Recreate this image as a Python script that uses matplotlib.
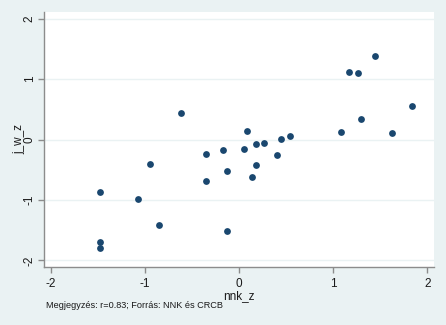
import matplotlib
matplotlib.use("Agg")
import matplotlib.pyplot as plt

nnk_z = [1.44, 1.17, 1.26, 1.84, 1.30, 1.08, 1.62, -0.62, 0.09, 0.05, 0.18, 0.27,
         0.45, 0.54, 0.40, -0.17, -0.35, 0.18, -0.13, 0.14, -0.35, -0.94, -1.48,
         -1.07, -0.85, -0.13, -1.48, -1.48]
j_w_z = [1.39, 1.12, 1.10, 0.56, 0.34, 0.12, 0.11, 0.44, 0.14, -0.15, -0.07, -0.06,
         0.01, 0.06, -0.25, -0.17, -0.24, -0.43, -0.52, -0.62, -0.69, -0.40, -0.87,
         -0.98, -1.41, -1.52, -1.69, -1.79]
ticks = [-2, -1, 0, 1, 2]

plt.rcParams['font.family'] = ['Liberation Sans', 'DejaVu Sans']
bg = '#eaf2f3'
fig = plt.figure(figsize=(4.46, 3.25), dpi=100, facecolor=bg)
W, H = 446, 325
ax = fig.add_axes([44 / W, 1 - 267 / H, (434 - 44) / W, (267 - 12) / H])
ax.set_facecolor('white')
ax.scatter(nnk_z, j_w_z, s=24, color='#1a476f', zorder=3, linewidths=0)
ax.set_xlim(-2.07, 2.07)
ax.set_ylim(-2.11, 2.11)
ax.set_xticks(ticks)
ax.set_yticks(ticks)
ax.set_xticklabels([str(t) for t in ticks])
ax.set_yticklabels([str(t) for t in ticks], rotation=90, va='center')
ax.grid(axis='y', color=bg, linewidth=1.0, zorder=1)
for s in ['top', 'right']:
    ax.spines[s].set_visible(False)
for s in ['left', 'bottom']:
    ax.spines[s].set_color('#8c8c8c')
    ax.spines[s].set_linewidth(1.0)
ax.tick_params(axis='both', colors='#8c8c8c', labelcolor='#1a1a1a', labelsize=8.5,
               length=4, width=1.0, pad=2)
ax.tick_params(axis='x', pad=4)
ax.set_xlabel('nnk_z', fontsize=8.5, color='#1a1a1a', labelpad=0)
ax.set_ylabel('j_w_z', fontsize=8.5, color='#1a1a1a', labelpad=-1)
fig.text(46 / W, 1 - 305 / H, 'Megjegyzés: r=0.83; Forrás: NNK és CRCB', fontsize=6.6,
         color='#1a1a1a', va='center', ha='left')
fig.savefig('out.png', dpi=100, facecolor=bg)
